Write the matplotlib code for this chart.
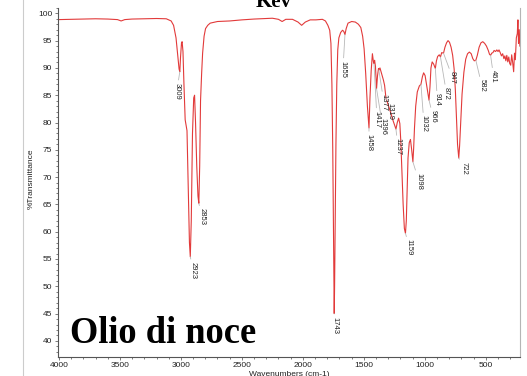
import matplotlib
matplotlib.use('Agg')
import matplotlib.pyplot as plt
from matplotlib.lines import Line2D
from matplotlib.ticker import MultipleLocator

# FTIR spectrum of walnut oil (wavenumber cm-1, % transmittance)
wavenumber = [
    4000, 3900, 3800, 3700, 3600, 3520, 3490, 3460, 3400, 3300, 3200, 3120,
    3080, 3060, 3040, 3025, 3015, 3009, 3003, 2995, 2990, 2983, 2975, 2965,
    2955, 2950, 2940, 2930, 2923, 2915, 2905, 2895, 2888, 2880, 2870, 2860,
    2853, 2846, 2839, 2830, 2822, 2810, 2798, 2780, 2760, 2700, 2600, 2500,
    2400, 2300, 2250, 2200, 2170, 2140, 2085, 2040, 2010, 1980, 1940, 1893,
    1840, 1815, 1795, 1780, 1770, 1762, 1755, 1750, 1746, 1743, 1740, 1735,
    1729, 1722, 1714, 1705, 1690, 1675, 1665, 1655, 1645, 1630, 1600, 1570,
    1545, 1525, 1510, 1498, 1485, 1471, 1458, 1450, 1440, 1430, 1422, 1417,
    1412, 1405, 1396, 1388, 1380, 1377, 1368, 1355, 1340, 1330, 1319, 1300,
    1280, 1260, 1245, 1237, 1226, 1215, 1205, 1197, 1188, 1178, 1168, 1159,
    1152, 1145, 1138, 1128, 1118, 1108, 1098, 1092, 1085, 1075, 1062, 1045,
    1032, 1020, 1010, 998, 985, 975, 966, 958, 950, 940, 928, 914,
    905, 895, 882, 872, 862, 847, 835, 822, 810, 798, 785, 772,
    760, 750, 740, 732, 722, 715, 706, 695, 680, 665, 650, 635,
    620, 607, 595, 582, 570, 555, 540, 525, 510, 495, 480, 470,
    461, 452, 442, 432, 420, 410, 400, 392, 382, 372, 362, 352,
    344, 336, 328, 320, 312, 304, 296, 288, 280, 272, 265, 258,
    250, 242, 237, 232, 226, 221,
]
transmittance = [
    98.85, 98.9, 98.95, 99.0, 98.95, 98.85, 98.6, 98.85, 98.95, 99.0, 99.05, 99.0,
    98.6, 97.8, 95.5, 92.0, 89.8, 89.3, 92.0, 94.6, 94.8, 93.0, 87.0, 80.5,
    79.2, 78.5, 68.0, 58.0, 55.4, 62.0, 78.0, 84.5, 85.0, 80.0, 72.0, 66.5,
    65.2, 72.0, 84.0, 89.0, 92.7, 95.8, 97.2, 97.8, 98.2, 98.5, 98.6, 98.8,
    98.95, 99.05, 99.1, 98.9, 98.5, 98.9, 98.9, 98.4, 97.8, 98.4, 98.8, 98.8,
    98.9, 98.6, 97.8, 96.9, 94.5, 87.0, 75.0, 62.0, 50.0, 45.0, 50.0, 62.0,
    76.0, 87.0, 93.3, 95.5, 96.5, 96.9, 96.7, 96.1, 97.2, 98.2, 98.5, 98.4,
    98.0, 97.4, 95.8, 93.5, 89.0, 83.0, 79.0, 84.5, 89.5, 92.6, 91.2, 90.8,
    91.4, 90.3, 86.2, 88.6, 89.9, 89.6, 90.0, 89.0, 87.8, 86.8, 84.5, 83.2,
    81.8, 80.3, 79.3, 78.8, 80.0, 80.8, 79.8, 76.5, 71.0, 65.0, 60.6, 59.7,
    62.0, 67.5, 73.5, 76.3, 76.9, 75.0, 72.8, 75.2, 79.0, 83.0, 85.6, 86.7,
    87.0, 88.4, 89.1, 88.6, 86.8, 85.3, 84.1, 86.5, 90.0, 91.1, 90.7, 89.9,
    91.3, 92.1, 92.4, 92.0, 92.8, 92.7, 93.8, 94.6, 95.0, 94.7, 93.8, 92.3,
    89.8, 86.0, 80.5, 76.0, 73.5, 75.8, 80.0, 85.2, 89.2, 91.6, 92.6, 92.9,
    92.6, 91.7, 91.3, 91.4, 92.3, 93.8, 94.6, 94.8, 94.5, 94.0, 93.2, 92.5,
    92.3, 92.7, 92.8, 93.2, 93.0, 93.3, 93.0, 93.3, 92.8, 92.2, 92.6, 91.7,
    92.2, 91.3, 92.3, 91.1, 92.0, 90.8, 90.5, 92.4, 91.0, 89.3, 92.7, 91.5,
    95.5, 96.3, 98.8, 94.5, 97.0, 94.0,
]

# labelled peaks
peak_wn = [3009, 2923, 2853, 1743, 1655, 1458, 1417, 1396, 1377, 1319, 1237,
           1159, 1098, 1032, 966, 914, 872, 847, 722, 582, 461]
peak_t = [89.3, 55.4, 65.2, 45.0, 96.1, 79.0, 90.8, 86.2, 89.6, 84.5, 78.8,
          59.7, 72.8, 87.0, 84.1, 89.9, 92.0, 92.7, 73.5, 91.4, 92.3]
# label offsets from the peak tip in pixels (right, down)
label_off = {
    3009: (-3, 11), 2923: (3, 5), 2853: (3, 5), 1743: (1, 3), 1655: (-2, 26),
    1458: (0, 6), 1417: (3, 47), 1396: (6, 29), 1377: (5, 24), 1319: (4, 5),
    1237: (2, 9), 1159: (4, 6), 1098: (6, 11), 1032: (3, 31), 966: (4, 10),
    914: (2, 25), 872: (6, 30), 847: (9, 18), 722: (5, 4), 582: (6, 19),
    461: (3, 15),
}

plt.rcParams['font.family'] = ['Liberation Sans', 'DejaVu Sans']

fig = plt.figure(figsize=(5.27, 3.76), dpi=100)
ax = fig.add_axes([0.1095, 0.0513, 0.8772, 0.9278])

ax.plot(wavenumber, transmittance, color='#e23a3a', lw=0.8)

ax.set_xlim(4010, 220)
ax.set_ylim(37.1, 101)
ax.set_xticks([4000, 3500, 3000, 2500, 2000, 1500, 1000, 500])
ax.set_yticks(range(40, 101, 5))
ax.xaxis.set_minor_locator(MultipleLocator(100))
ax.yaxis.set_minor_locator(MultipleLocator(1))
ax.tick_params(which='both', direction='out', colors='#666666', labelcolor='#222222',
               labelsize=6, width=0.6, pad=1.5)
ax.tick_params(which='major', length=2.5)
ax.tick_params(which='minor', length=1.2)

ax.spines['top'].set_visible(False)
ax.spines['left'].set_color('#555555')
ax.spines['bottom'].set_color('#555555')
ax.spines['right'].set_color('#b5b5b5')
for s in ax.spines.values():
    s.set_linewidth(0.8)

ax.set_xlabel('Wavenumbers (cm-1)', fontsize=6, labelpad=1, color='#222222')
ax.set_ylabel('%Transmittance', fontsize=6, labelpad=2, color='#222222')
ax.yaxis.set_label_coords(-0.05, 0.51)

px = 72 / fig.dpi
for w, t in zip(peak_wn, peak_t):
    dx, dy = label_off[w]
    ax.annotate(str(w), xy=(w, t), xytext=(dx * px, -dy * px),
                textcoords='offset points', rotation=-90, ha='center', va='top',
                fontsize=5.5, color='#222222',
                arrowprops=dict(arrowstyle='-', color='#b8b8b8', lw=0.6,
                                shrinkA=0, shrinkB=0))

ax.text(0.027, 0.04, 'Olio di noce', transform=ax.transAxes, fontsize=26.3,
        fontweight='bold', family='Liberation Serif', color='black',
        ha='left', va='baseline')

fig.text(274 / 527, 1 - 7 / 376, 'Kev', fontsize=15, fontweight='bold',
         family='Liberation Serif', ha='center', va='baseline')

# thin frame line on the left side
fig.add_artist(Line2D([23 / 527, 23 / 527], [0, 1], color='#cccccc', lw=0.8))

fig.savefig('out.png', dpi=100)
